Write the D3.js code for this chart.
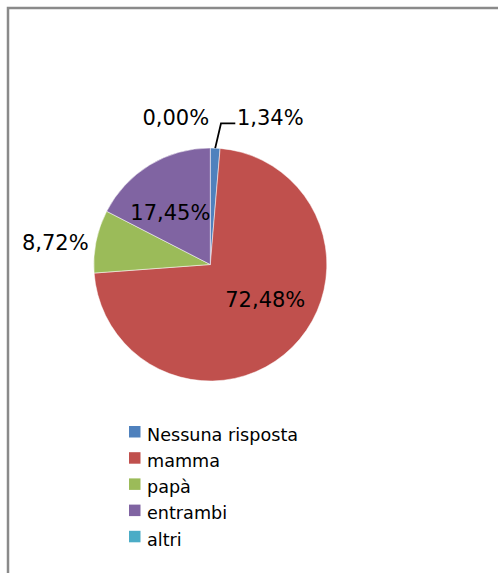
<!DOCTYPE html>
<html>
<head>
<meta charset="utf-8">
<script src="https://cdn.jsdelivr.net/npm/d3@7"></script>
<style>
  html, body { margin: 0; padding: 0; background: #fff; }
  svg { display: block; }
  text { font-family: "DejaVu Sans", sans-serif; fill: #000; }
</style>
</head>
<body>
<svg id="chart" width="498" height="573"></svg>
<script>
const categories = ["Nessuna risposta", "mamma", "papà", "entrambi", "altri"];
const values = [1.34, 72.48, 8.72, 17.45, 0.00];
const labels = ["1,34%", "72,48%", "8,72%", "17,45%", "0,00%"];
const colors = ["#4F81BD", "#C0504D", "#9BBB59", "#8064A2", "#4BACC6"];

// label placement (layout, relative to pie centre)
const labelOffsets = [[60, -139.5], [55, 42], [-155, -14.5], [-40, -45], [-34.5, -139.5]];

const svg = d3.select("#chart");
const W = 498, H = 573;

// outer frame
svg.append("rect")
  .attr("x", 8).attr("y", 8)
  .attr("width", 700).attr("height", 700)
  .attr("fill", "none")
  .attr("stroke", "#8a8a8a")
  .attr("stroke-width", 2.5);

const cx = 210.3, cy = 264.5, r = 116.5;

const pie = d3.pie().sort(null).value(d => d).startAngle(0).endAngle(2 * Math.PI);
const arcs = pie(values);
const arc = d3.arc().innerRadius(0).outerRadius(r);

const g = svg.append("g").attr("transform", `translate(${cx},${cy})`);

g.selectAll("path.slice")
  .data(arcs)
  .enter().append("path")
  .attr("class", "slice")
  .attr("d", arc)
  .attr("fill", (d, i) => colors[i])
  .attr("stroke", "#ffffff")
  .attr("stroke-width", (d) => d.value > 0 ? 0.5 : 0);

// leader line for the small slice
const small = arcs[0];
const mid = (small.startAngle + small.endAngle) / 2;
const p0 = [r * Math.sin(mid), -r * Math.cos(mid)];
const line = d3.line();
g.append("path")
  .attr("d", line([p0, [10.7, -141.2], [25, -141.2]]))
  .attr("fill", "none")
  .attr("stroke", "#000")
  .attr("stroke-width", 1.8);

// data labels
g.selectAll("text.lbl")
  .data(arcs)
  .enter().append("text")
  .attr("class", "lbl")
  .attr("x", (d, i) => labelOffsets[i][0])
  .attr("y", (d, i) => labelOffsets[i][1])
  .attr("text-anchor", "middle")
  .attr("font-size", 21)
  .text((d, i) => labels[i]);

// legend
const legend = svg.append("g").attr("transform", "translate(129,426)");
const rowH = 26.2;
const items = legend.selectAll("g.item")
  .data(categories)
  .enter().append("g")
  .attr("class", "item")
  .attr("transform", (d, i) => `translate(0,${i * rowH})`);
items.append("rect")
  .attr("x", 0).attr("y", 0)
  .attr("width", 11.5).attr("height", 11.5)
  .attr("fill", (d, i) => colors[i]);
items.append("text")
  .attr("x", 18).attr("y", 14.7)
  .attr("font-size", 17.6)
  .text(d => d);
</script>
</body>
</html>
